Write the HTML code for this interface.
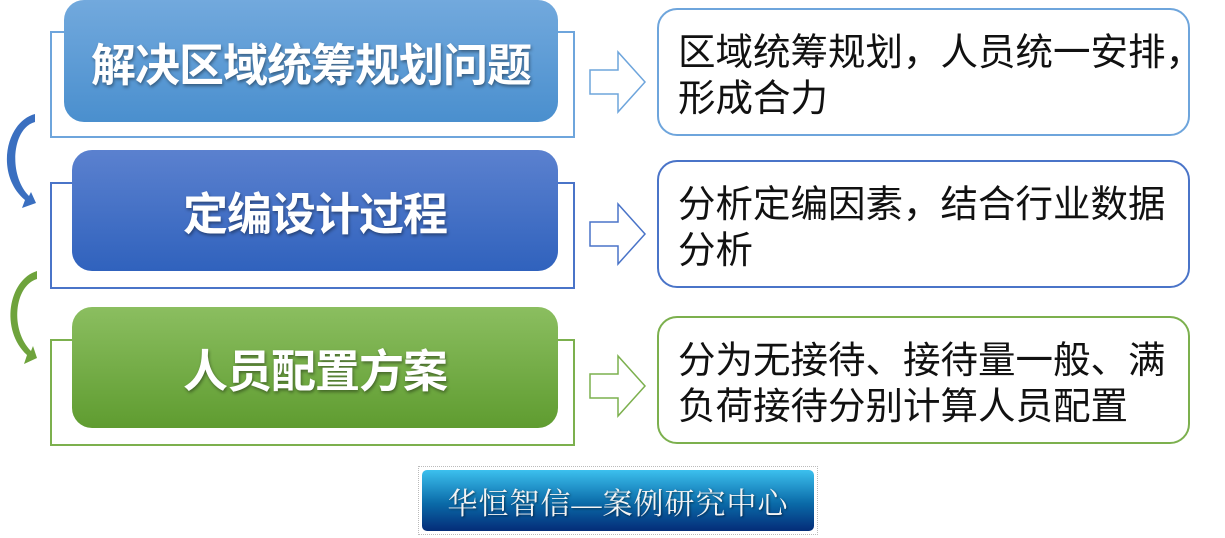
<!DOCTYPE html>
<html><head><meta charset="utf-8"><style>
body{margin:0;width:1225px;height:538px;background:#fff;position:relative;overflow:hidden;font-family:"Liberation Sans","Noto Sans CJK SC",sans-serif}
.o{position:absolute;left:50px;width:521px;height:103px;border:2px solid}
.b{position:absolute;border-radius:20px;color:#fff;font-weight:bold;font-size:45px;display:flex;align-items:center;justify-content:center;text-shadow:1px 2px 3px rgba(0,0,0,.4);letter-spacing:-1px}
.r{position:absolute;left:657px;width:533px;height:128px;border:2px solid;border-radius:20px;box-sizing:border-box;font-size:37.5px;line-height:46px;padding:19px 0 0 19px;color:#111;white-space:nowrap}
svg{position:absolute;left:0;top:0}
</style></head><body>
<div class="o" style="top:31px;border-color:#6ea5dc"></div>
<div class="b" style="left:64px;top:0;width:494px;height:122px;background:linear-gradient(#72a9dd,#4a8fce)">解决区域统筹规划问题</div>
<div class="r" style="top:8px;border-color:#6ea5dc">区域统筹规划，人员统一安排，<br>形成合力</div>

<div class="o" style="top:182px;border-color:#4a74c8"></div>
<div class="b" style="left:72px;top:150px;width:486px;height:121px;background:linear-gradient(#5b81cf,#3062bd)">定编设计过程</div>
<div class="r" style="top:160px;border-color:#4a74c8">分析定编因素，结合行业数据<br>分析</div>

<div class="o" style="top:339px;border-color:#7cb04e"></div>
<div class="b" style="left:72px;top:307px;width:486px;height:121px;background:linear-gradient(#8bbe60,#5f9c30)">人员配置方案</div>
<div class="r" style="top:316px;border-color:#7cb04e">分为无接待、接待量一般、满<br>负荷接待分别计算人员配置</div>

<svg width="1225" height="538">
<g fill="#fff" stroke-width="1.5">
<path d="M590 70h28v-18l27 30l-27 30v-18h-28z" stroke="#6ea5dc"/>
<path d="M590 222h28v-18l27 30l-27 30v-18h-28z" stroke="#4a74c8"/>
<path d="M590 374h28v-18l27 30l-27 30v-18h-28z" stroke="#7cb04e"/>
</g>
<path d="M35 114 C5 122,-5 175,25 200 L22 208 L36 203 L31 192 L29 196 C8 175,12 128,35 122z" fill="#3a6fc0"/>
<path d="M37 271 C8 280,0 330,27 355 L24 364 L37 358 L33 346 L31 351 C10 330,14 286,37 279z" fill="#6ea33c"/>
</svg>

<div style="position:absolute;left:418px;top:466px;width:400px;height:69px;border:1px dotted #bbb;box-sizing:border-box;padding:3px">
<div style="height:61px;border-radius:5px;background:linear-gradient(#3cc0ee,#0a6aa8 55%,#042c78);color:#f4f4f4;font-family:'Liberation Serif','Noto Serif CJK SC',serif;font-size:30px;display:flex;align-items:center;justify-content:center;letter-spacing:1px;text-shadow:1px 1px 2px rgba(0,0,0,.5)">华恒智信—案例研究中心</div></div>
</body></html>
